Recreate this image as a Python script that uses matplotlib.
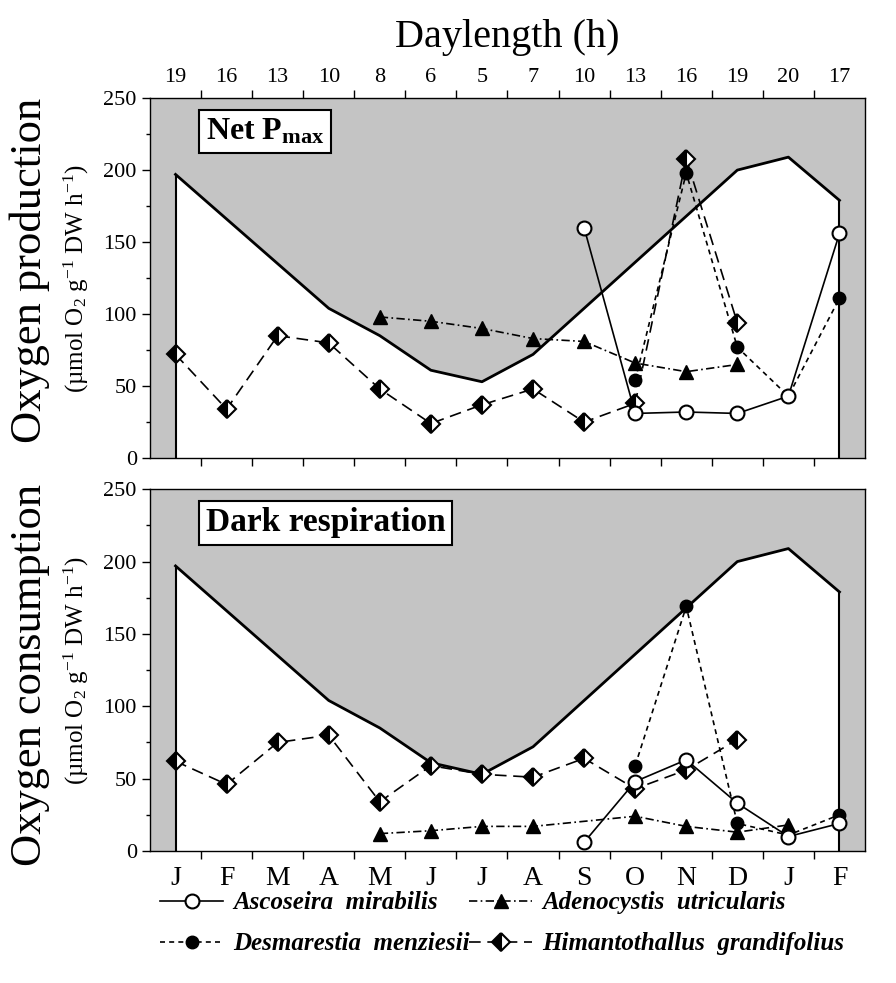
import matplotlib
matplotlib.use('Agg')
import matplotlib.pyplot as plt
from matplotlib.ticker import FixedLocator, MultipleLocator

plt.rcParams['font.family'] = 'Liberation Serif'
plt.rcParams['mathtext.fontset'] = 'custom'
plt.rcParams['mathtext.rm'] = 'Liberation Serif'
plt.rcParams['mathtext.it'] = 'Liberation Serif:italic'
plt.rcParams['mathtext.bf'] = 'Liberation Serif:bold'

months = ['J', 'F', 'M', 'A', 'M', 'J', 'J', 'A', 'S', 'O', 'N', 'D', 'J', 'F']
daylength_h = [19, 16, 13, 10, 8, 6, 5, 7, 10, 13, 16, 19, 20, 17]
# daylength curve drawn in y units of the panels
daylength_curve = [197, 166, 135, 104, 85, 61, 53, 72, 104, 136, 168, 200, 209, 179]

# month index (0 = J ... 13 = F next year)
asco_x = [8, 9, 10, 11, 12, 13]
desm_x = [9, 10, 11, 12, 13]
aden_pmax_x = [4, 5, 6, 7, 8, 9, 10, 11]
aden_resp_x = [4, 5, 6, 7, 9, 10, 11, 12]
hima_x = [0, 1, 2, 3, 4, 5, 6, 7, 8, 9, 10, 11]

# net Pmax
asco_pmax = [160, 31, 32, 31, 43, 156]
desm_pmax = [54, 198, 77, 43, 111]
aden_pmax = [98, 95, 90, 83, 81, 66, 60, 65]
hima_pmax = [72, 34, 85, 80, 48, 24, 37, 48, 25, 38, 208, 94]

# dark respiration
asco_resp = [6, 48, 63, 33, 10, 19]
desm_resp = [59, 169, 19, 11, 25]
aden_resp = [12, 14, 17, 17, 24, 17, 13, 18]
hima_resp = [62, 46, 75, 80, 34, 59, 53, 51, 64, 43, 56, 77]

shade = '#c4c4c4'

fig = plt.figure(figsize=(8.96, 9.83), dpi=100)
ax1 = fig.add_axes([0.1674, 0.534, 0.798, 0.3662])
ax2 = fig.add_axes([0.1674, 0.1343, 0.798, 0.368])


def draw_panel(ax, asco, desm, aden, aden_x, hima):
    xm = list(range(len(months)))
    ax.set_facecolor(shade)
    ax.fill_between(xm, 0, daylength_curve, color='white', zorder=1, lw=0)
    ax.plot(xm, daylength_curve, color='black', lw=2, zorder=2)
    ax.vlines([xm[0], xm[-1]], 0, [daylength_curve[0], daylength_curve[-1]],
              color='black', lw=1.5, zorder=2)

    h_desm, = ax.plot(desm_x, desm, color='black', lw=1.2, ls=(0, (3, 2.5)),
                      marker='o', ms=9, mfc='black', mec='black', zorder=3,
                      label='Desmarestia  menziesii')
    h_hima, = ax.plot(hima_x, hima, color='black', lw=1.2, ls=(0, (7, 4)),
                      marker='D', ms=9.5, mfc='black', mfcalt='white', fillstyle='left',
                      mec='black', mew=1.5, zorder=4,
                      label='Himantothallus  grandifolius')
    h_aden, = ax.plot(aden_x, aden, color='black', lw=1.2, ls=(0, (5, 2, 1, 2)),
                      marker='^', ms=10, mfc='black', mec='black', zorder=5,
                      label='Adenocystis  utricularis')
    h_asco, = ax.plot(asco_x, asco, color='black', lw=1.2, ls='-',
                      marker='o', ms=10, mfc='white', mec='black', mew=1.5, zorder=6,
                      label='Ascoseira  mirabilis')

    ax.set_xlim(-0.5, 13.5)
    ax.set_ylim(0, 250)
    ax.xaxis.set_major_locator(FixedLocator(xm))
    ax.xaxis.set_minor_locator(FixedLocator([i + 0.5 for i in range(13)]))
    ax.yaxis.set_major_locator(MultipleLocator(50))
    ax.yaxis.set_minor_locator(MultipleLocator(25))
    ax.tick_params(axis='y', which='major', direction='out', length=6, width=1,
                   labelsize=16, right=False)
    ax.tick_params(axis='y', which='minor', direction='out', length=3, width=1, right=False)
    ax.tick_params(axis='x', which='major', length=0)
    ax.tick_params(axis='x', which='minor', direction='out', length=6, width=1)
    for s in ax.spines.values():
        s.set_linewidth(1)
    return [h_asco, h_desm, h_aden, h_hima]


handles = draw_panel(ax1, asco_pmax, desm_pmax, aden_pmax, aden_pmax_x, hima_pmax)
draw_panel(ax2, asco_resp, desm_resp, aden_resp, aden_resp_x, hima_resp)

# top panel: daylength hours on top
ax1.tick_params(axis='x', which='both', top=True, bottom=True, labeltop=True, labelbottom=False)
ax1.set_xticklabels([str(h) for h in daylength_h], fontsize=16)
ax1.tick_params(axis='x', which='major', pad=8)
ax1.set_title('Daylength (h)', fontsize=29, pad=37)

# bottom panel: months
ax2.tick_params(axis='x', which='both', top=False, bottom=True, labelbottom=True)
ax2.set_xticklabels(months, fontsize=20)
ax2.tick_params(axis='x', which='major', pad=11)

ax1.text(0.078, 0.948, r'$\mathbf{Net\ P_{max}}$', transform=ax1.transAxes,
         ha='left', va='top', fontsize=23, zorder=10,
         bbox=dict(boxstyle='square,pad=0.2', fc='white', ec='black', lw=1.5))
ax2.text(0.078, 0.95, 'Dark respiration', transform=ax2.transAxes,
         ha='left', va='top', fontsize=24, fontweight='bold', zorder=10,
         bbox=dict(boxstyle='square,pad=0.2', fc='white', ec='black', lw=1.5))

unit = '(\u00b5mol O$_2$ g$^{-1}$ DW h$^{-1}$)'
for ax, name, yc in [(ax1, 'Oxygen production', 0.522), (ax2, 'Oxygen consumption', 0.486)]:
    ax.text(-0.168, yc, name, transform=ax.transAxes, rotation=90,
            ha='center', va='center', fontsize=32)
    ax.text(-0.103, 0.5, unit, transform=ax.transAxes, rotation=90,
            ha='center', va='center', fontsize=18)

fig.legend(handles=handles, loc='upper left', bbox_to_anchor=(0.165, 0.106),
           ncol=2, frameon=False, handlelength=2.5, handletextpad=0.4,
           columnspacing=0.0, labelspacing=0.72, borderpad=0,
           prop=dict(family='Liberation Serif', style='italic', weight='bold', size=18))

fig.savefig('out.png', dpi=100)
